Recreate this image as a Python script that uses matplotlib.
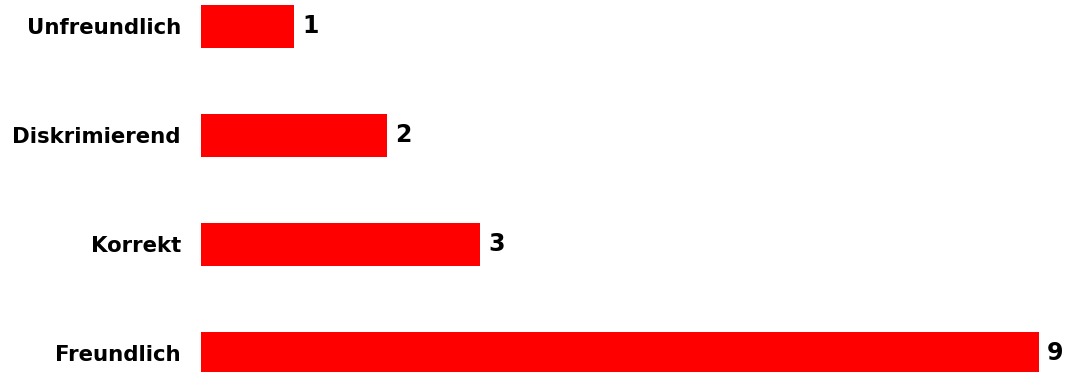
import matplotlib
matplotlib.use("Agg")
import matplotlib.pyplot as plt

# kategorien von unten nach oben
kategorien = ["Freundlich", "Korrekt", "Diskrimierend", "Unfreundlich"]
werte = [9, 3, 2, 1]

fig = plt.figure(figsize=(10.67, 3.72), dpi=100)
ax = fig.add_axes([201 / 1067, 0, 1 - 201 / 1067, 1])

pos = list(range(len(kategorien)))
ax.barh(pos, werte, height=0.395, color="#ff0000")

ax.set_xlim(0, 866 / 93.1)
ax.set_ylim(-19 / 109, 3 + 26.5 / 109)

ax.set_yticks(pos)
ax.set_yticklabels(kategorien, fontsize=15.3, fontweight="bold", family="DejaVu Sans")
ax.tick_params(axis="y", length=0, pad=14.4)
ax.set_xticks([])
for s in ax.spines.values():
    s.set_visible(False)

for p, w in zip(pos, werte):
    ax.annotate(str(w), (w, p), xytext=(5.8, 0), textcoords="offset points",
                ha="left", va="center", fontsize=17, fontweight="bold", family="DejaVu Sans")

fig.savefig("out.png", dpi=100)
